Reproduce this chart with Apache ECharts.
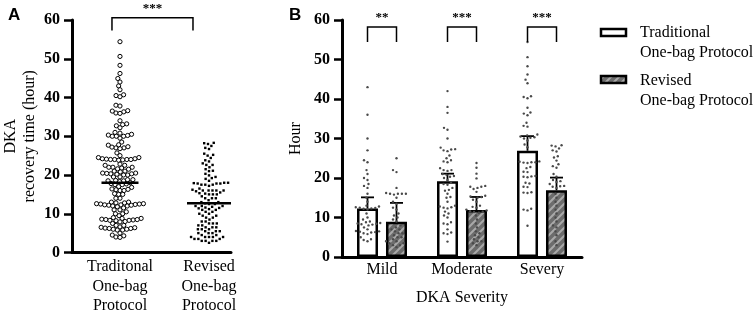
<!DOCTYPE html>
<html><head><meta charset="utf-8">
<script src="https://cdn.jsdelivr.net/npm/echarts@6/dist/echarts.min.js"></script>
<style>html,body{margin:0;padding:0;background:#fff}#c{width:755px;height:316px}</style>
</head><body><div id="c"></div>
<script>
// ---------- data ----------
const groupsA = ['Traditonal\nOne-bag\nProtocol', 'Revised\nOne-bag\nProtocol'];
const severity = ['Mild', 'Moderate', 'Severy'];
const protocols = ['Traditional\nOne-bag Protocol', 'Revised\nOne-bag Protocol'];
const yTicks = [0, 10, 20, 30, 40, 50, 60];

const tradMild = [43, 36, 30, 27, 24.5, 24, 22, 21, 20, 19.5, 18.5, 18, 17.5, 16, 15, 14, 13, 12.8, 12.6, 12.5, 12.4, 12.3, 12.2, 12, 11, 10, 9.5, 9, 8.8, 8.6, 8.5, 8.4, 8.3, 8.2, 8, 7.5, 7, 6.6, 6.5, 6.4, 6.3, 6.2, 6, 5.8, 5, 4.5, 4.3, 4];
const tradModerate = [42, 38, 36.5, 32.7, 32.2, 30, 27.7, 27.2, 27, 27.3, 26.8, 25.7, 25, 24.5, 24, 24.2, 22.5, 22, 22, 21.8, 21, 20.8, 20.5, 20.3, 20, 19.5, 18.8, 18.5, 18.3, 17.5, 17, 16.8, 16, 15.2, 15, 14, 13, 12.8, 12.6, 12.5, 12.3, 11.5, 11, 10.5, 10, 8.8, 8.5, 8.3, 7, 6.2, 6, 5.8, 3.9];
const tradSevere = [54.4, 50.6, 48.3, 46.2, 44.9, 44, 40.7, 40.5, 40.2, 37.8, 36.6, 36.3, 35.9, 34, 33.2, 33, 31, 30.8, 30.5, 30.3, 30.2, 30, 29.5, 28.5, 27.8, 24.2, 24, 24, 23.8, 24.1, 23.9, 22.8, 22.5, 21.5, 21.6, 20.3, 20.5, 20.2, 20.4, 18.8, 18.6, 17.7, 17.8, 16.3, 16.2, 16.4, 12, 12.2, 11.8, 7.9];
const revMild = [25, 22, 21.5, 17.5, 16, 16, 16, 16, 15.8, 16.2, 15, 14, 13.5, 12.5, 12, 11, 10.5, 10, 9.5, 9, 8, 7.5, 7, 6.5, 6, 5.5, 5, 4.5, 4, 3.5, 3, 2.5, 3, 3.5, 4, 5, 6, 7];
const revModerate = [23.8, 22.6, 21.1, 19.9, 18, 17.8, 17.5, 17.8, 17.2, 16.5, 15.5, 15.2, 15, 15.3, 14.5, 14, 13, 12.7, 12.5, 12, 11.8, 11.6, 11.5, 11.4, 11.2, 10.5, 9.5, 8.5, 7.5, 6.5, 5.5, 5, 4.5, 4, 3.5, 3, 4, 6];
const revSevere = [28.3, 28, 28.2, 27.5, 27, 26.7, 25.5, 25.2, 24.4, 23.5, 23, 22.6, 21, 20.3, 19.5, 19.2, 19, 18.5, 18, 17.9, 17.5, 17.8, 16, 15, 14, 13, 12, 11, 10, 9, 8, 7.5, 6.5, 5.5, 4, 3];

const centerLineA = [18.0, 12.7];
const barMeansTrad = [12.3, 19.2, 26.9];
const barMeansRev = [8.9, 11.9, 16.9];
const errUpperTrad = [15.1, 21.1, 30.6];
const errUpperRev = [13.7, 15.2, 20.1];
const sigA = '***';
const sigB = ['**', '***', '***'];

// ---------- derived ----------
const tradAll = tradMild.concat(tradModerate, tradSevere);
const revAll = revMild.concat(revModerate, revSevere);
const tradB = [tradMild, tradModerate, tradSevere];
const revB = [revMild, revModerate, revSevere];

const SERIF = '"Liberation Serif", "Times New Roman", serif';
const SANS = '"Liberation Sans", Arial, sans-serif';

function hatch() {
  const s = 8, c = document.createElement('canvas');
  c.width = s; c.height = s;
  const g = c.getContext('2d');
  g.fillStyle = '#6c6c6c'; g.fillRect(0, 0, s, s);
  g.strokeStyle = '#a9a9a9'; g.lineWidth = 2;
  g.beginPath();
  g.moveTo(-2, s + 2); g.lineTo(s + 2, -2);
  g.moveTo(-2, 2); g.lineTo(2, -2);
  g.moveTo(s - 2, s + 2); g.lineTo(s + 2, s - 2);
  g.stroke();
  return c;
}
const hatchFill = { image: hatch(), repeat: 'repeat' };

function swarm(values, diam, ppu) {
  const idx = values.map((v, i) => i).sort((a, b) => values[a] - values[b]);
  const placed = [], dx = new Array(values.length);
  for (const i of idx) {
    const y = values[i] * ppu;
    const near = placed.filter(p => Math.abs(p.y - y) < diam);
    const cands = [0];
    near.forEach(p => { const h = Math.sqrt(diam * diam - (p.y - y) ** 2); cands.push(p.x + h, p.x - h); });
    cands.sort((a, b) => Math.abs(a) - Math.abs(b) || a - b);
    let chosen = 0;
    for (const c of cands) {
      if (near.every(p => (p.x - c) ** 2 + (p.y - y) ** 2 >= diam * diam - 1e-6)) { chosen = c; break; }
    }
    placed.push({ x: chosen, y }); dx[i] = chosen;
  }
  return dx;
}

const chart = echarts.init(document.getElementById('c'), null, { renderer: 'canvas' });

const yAxisCommon = (grid, name, gap) => ({
  type: 'value', gridIndex: grid, min: 0, max: 60, interval: 10,
  name: name, nameLocation: 'middle', nameGap: gap, nameRotate: 90,
  nameTextStyle: { fontFamily: SERIF, fontSize: 16, color: '#000', lineHeight: 19 },
  axisLine: { show: true, onZero: false, lineStyle: { color: '#000', width: 3 } },
  axisTick: { show: true, length: 8, lineStyle: { color: '#000', width: 2.5 } },
  axisLabel: { fontFamily: SERIF, fontWeight: 'bold', fontSize: 16, color: '#000', margin: 12,
    customValues: yTicks },
  splitLine: { show: false }
});

const BAR_W = 21, BAR_OFF = 14.5;

function bracketRender(getX) {
  return function (params, api) {
    const xs = getX(api);
    const bot = api.coord([0, api.value(2)])[1];
    const pTop = api.coord([api.value(0), api.value(1)]);
    const x1 = xs[0], x2 = xs[1];
    return {
      type: 'group', children: [
        { type: 'polyline', shape: { points: [[x1, bot], [x1, pTop[1]], [x2, pTop[1]], [x2, bot]] },
          style: { stroke: '#000', lineWidth: 1.5, fill: null } },
        { type: 'text', x: (x1 + x2) / 2, y: pTop[1] - 9,
          style: { text: api.value(3) === 2 ? '**' : '***', font: 'bold 13px ' + SERIF, fill: '#000',
            align: 'center', verticalAlign: 'middle' } }
      ]
    };
  };
}

const option = {
  animation: false,
  backgroundColor: '#fff',
  grid: [
    { left: 72, top: 20, width: 159, height: 237 },
    { left: 342, top: 20, width: 240, height: 237 }
  ],
  xAxis: [
    { type: 'value', gridIndex: 0, min: -0.539, max: 1.247,
      axisLine: { show: true, onZero: false, lineStyle: { color: '#000', width: 3 } },
      axisTick: { show: false }, splitLine: { show: false },
      axisLabel: { customValues: [0, 1], formatter: v => groupsA[Math.round(v)] || '',
        fontFamily: SERIF, fontSize: 16, color: '#000', lineHeight: 19.5, margin: 5 } },
    { type: 'category', gridIndex: 1, data: severity,
      name: 'DKA Severity', nameLocation: 'middle', nameGap: 33,
      nameTextStyle: { fontFamily: SERIF, fontSize: 16, color: '#000' },
      axisLine: { show: true, onZero: false, lineStyle: { color: '#000', width: 3 } },
      axisTick: { show: false },
      axisLabel: { fontFamily: SERIF, fontSize: 16, color: '#000', margin: 5 } }
  ],
  yAxis: [ yAxisCommon(0, 'DKA\nrecovery time (hour)', 33), yAxisCommon(1, 'Hour', 37) ],
  graphic: [
    { type: 'text', left: 8, top: 7, style: { text: 'A', font: 'bold 17px ' + SANS, fill: '#000' } },
    { type: 'text', left: 289, top: 7, style: { text: 'B', font: 'bold 17px ' + SANS, fill: '#000' } },
    { type: 'rect', shape: { x: 601, y: 29, width: 25, height: 7 }, style: { fill: '#fff', stroke: '#000', lineWidth: 2.5 } },
    { type: 'text', x: 640, y: 23, style: { text: protocols[0], font: '16px ' + SERIF, lineHeight: 20, fill: '#000' } },
    { type: 'rect', shape: { x: 601, y: 76, width: 25, height: 7 }, style: { fill: hatchFill, stroke: '#000', lineWidth: 2.5 } },
    { type: 'text', x: 640, y: 71, style: { text: protocols[1], font: '16px ' + SERIF, lineHeight: 20, fill: '#000' } }
  ],
  series: []
};
chart.setOption(option);

const ppu = Math.abs(chart.convertToPixel({ yAxisIndex: 0 }, 0) - chart.convertToPixel({ yAxisIndex: 0 }, 10)) / 10;
const dxTradA = swarm(tradAll, 4.1, ppu);
const dxRevA = swarm(revAll, 3.9, ppu);

const series = [];
// ---- Panel A ----
series.push({
  type: 'custom', name: 'Traditional A', xAxisIndex: 0, yAxisIndex: 0, z: 5,
  data: tradAll.map((v, i) => [0, v, dxTradA[i]]),
  renderItem: (p, api) => {
    const c = api.coord([api.value(0), api.value(1)]);
    return { type: 'circle', shape: { cx: c[0] + api.value(2), cy: c[1], r: 2.1 },
      style: { fill: '#fff', stroke: '#000', lineWidth: 1 } };
  }
});
series.push({
  type: 'custom', name: 'Revised A', xAxisIndex: 0, yAxisIndex: 0, z: 5,
  data: revAll.map((v, i) => [1, v, dxRevA[i]]),
  renderItem: (p, api) => {
    const c = api.coord([api.value(0), api.value(1)]);
    return { type: 'rect', shape: { x: c[0] + api.value(2) - 1.2, y: c[1] - 1.2, width: 2.4, height: 2.4 },
      style: { fill: '#000' } };
  }
});
series.push({
  type: 'custom', name: 'Center A', xAxisIndex: 0, yAxisIndex: 0, z: 6,
  data: centerLineA.map((v, i) => [i, v]),
  renderItem: (p, api) => {
    const c = api.coord([api.value(0), api.value(1)]);
    const hw = api.value(0) === 0 ? 18.5 : 22;
    return { type: 'line', shape: { x1: c[0] - hw, y1: c[1], x2: c[0] + hw, y2: c[1] },
      style: { stroke: '#000', lineWidth: 2.5 } };
  }
});
series.push({
  type: 'custom', name: 'Sig A', xAxisIndex: 0, yAxisIndex: 0, clip: false, z: 6,
  data: [[-0.09, 60.6, 57.3, sigA.length, 0.82]],
  renderItem: bracketRender(api => [api.coord([api.value(0), 0])[0], api.coord([api.value(4), 0])[0]])
});

// ---- Panel B ----
series.push({
  type: 'bar', name: 'Traditional One-bag Protocol', xAxisIndex: 1, yAxisIndex: 1,
  data: barMeansTrad, barWidth: BAR_W, barGap: '38%', z: 2,
  itemStyle: { color: '#fff', borderColor: '#000', borderWidth: 2.5 }
});
series.push({
  type: 'bar', name: 'Revised One-bag Protocol', xAxisIndex: 1, yAxisIndex: 1,
  data: barMeansRev, barWidth: BAR_W, z: 2,
  itemStyle: { color: hatchFill, borderColor: '#000', borderWidth: 2.5 }
});
const errData = [];
barMeansTrad.forEach((m, i) => errData.push([i, m, errUpperTrad[i], -1]));
barMeansRev.forEach((m, i) => errData.push([i, m, errUpperRev[i], 1]));
series.push({
  type: 'custom', name: 'Error bars', xAxisIndex: 1, yAxisIndex: 1, z: 3,
  data: errData,
  renderItem: (p, api) => {
    const a = api.coord([api.value(0), api.value(1)]);
    const b = api.coord([api.value(0), api.value(2)]);
    const x = a[0] + api.value(3) * BAR_OFF;
    return { type: 'group', children: [
      { type: 'line', shape: { x1: x, y1: a[1], x2: x, y2: b[1] }, style: { stroke: '#000', lineWidth: 1.8 } },
      { type: 'line', shape: { x1: x - 6.5, y1: b[1], x2: x + 6.5, y2: b[1] }, style: { stroke: '#000', lineWidth: 1.8 } }
    ] };
  }
});
const dotData = [];
tradB.forEach((arr, ci) => { const d = swarm(arr, 4.0, ppu); arr.forEach((v, k) => dotData.push([ci, v, d[k] - BAR_OFF])); });
revB.forEach((arr, ci) => { const d = swarm(arr, 4.0, ppu); arr.forEach((v, k) => dotData.push([ci, v, d[k] + BAR_OFF])); });
series.push({
  type: 'custom', name: 'Dots B', xAxisIndex: 1, yAxisIndex: 1, z: 4,
  data: dotData,
  renderItem: (p, api) => {
    const c = api.coord([api.value(0), api.value(1)]);
    return { type: 'circle', shape: { cx: c[0] + api.value(2), cy: c[1], r: 1.2 }, style: { fill: '#4a4a4a' } };
  }
});
series.push({
  type: 'custom', name: 'Sig B', xAxisIndex: 1, yAxisIndex: 1, clip: false, z: 6,
  data: sigB.map((s, i) => [i, 58.2, 54.4, s.length]),
  renderItem: bracketRender(api => { const x = api.coord([api.value(0), 0])[0]; return [x - BAR_OFF, x + BAR_OFF]; })
});

chart.setOption({ series: series });
</script>
</body></html>
